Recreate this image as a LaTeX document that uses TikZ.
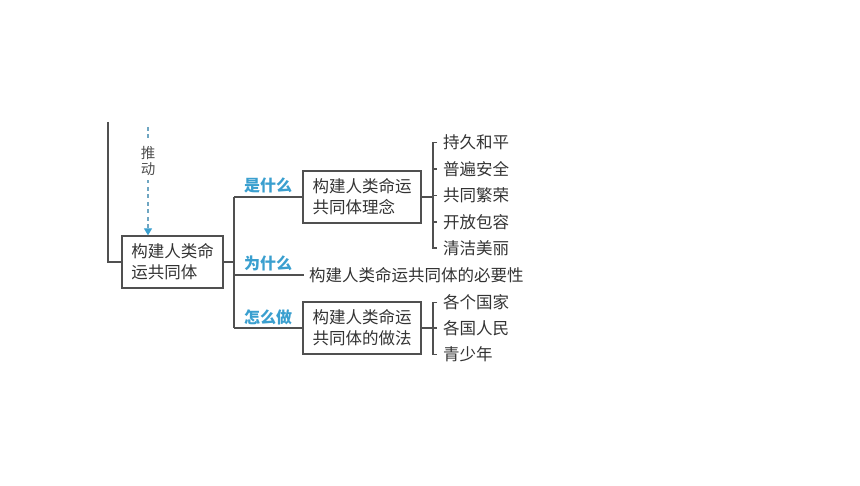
\documentclass[tikz,border=0pt]{standalone}
\usepackage{fontspec}
\setmainfont{Noto Sans CJK SC}
\usetikzlibrary{arrows.meta}
\definecolor{ln}{HTML}{505050}
\definecolor{tx}{HTML}{333333}
\definecolor{bl}{HTML}{3A9FCF}
\definecolor{dsh}{HTML}{6FA6C2}
\begin{document}
\begin{tikzpicture}[x=1pt,y=-1pt,
  conn/.style={draw=ln, line width=1.3pt},
  box/.style={draw=ln, line width=1.3pt, inner xsep=0pt, inner ysep=0pt, align=left, text=tx},
  bigbox/.style={box, minimum width=118pt, minimum height=52pt, font=\fontsize{16.5}{21}\selectfont},
  smallbox/.style={box, minimum width=101pt, minimum height=52pt, font=\fontsize{16.5}{21}\selectfont},
  item/.style={anchor=west, inner sep=0pt, text=tx, font=\fontsize{16.5}{20}\selectfont},
  qlabel/.style={inner sep=0pt, text=bl, font=\fontsize{16}{20}\selectfont\bfseries},
  tick/.style={draw=ln, line width=1.3pt}
]
\useasboundingbox (0,0) rectangle (860,486);

% main box
\node[smallbox] (b1) at (172.5,262) {构建人类命\\运共同体};
% left line
\coordinate (ltop) at (108,122);
\coordinate (lbot) at (108,262);
\draw[conn] (ltop) -- (lbot) -- (b1.west);

% dashed arrow
\coordinate (dtop) at (148,127);
\draw[draw=dsh, line width=1.3pt, dash pattern=on 4pt off 3.5pt, -{Triangle[width=8pt,length=7pt,color=bl]}] (dtop) -- (b1.north -| dtop);
\node[fill=white, inner xsep=2pt, inner ysep=4pt, text=ln, align=center, font=\fontsize{14.5}{16.5}\selectfont] (push) at (148,161) {推\\动};

% trunk
\coordinate (t0) at (234,262);
\coordinate (ttop) at (234,197);
\coordinate (tmid) at (234,275);
\coordinate (tbot) at (234,328);
\draw[conn] (b1.east) -- (t0);
\draw[conn] (ttop) -- (tbot);

% boxes 2,3
\node[bigbox] (b2) at (362,197) {构建人类命运\\共同体理念};
\node[bigbox] (b3) at (362,328) {构建人类命运\\共同体的做法};
\draw[conn] (ttop) -- (b2.west);
\draw[conn] (tbot) -- (b3.west);

% middle
\node[item] (need) at (309,275) {构建人类命运共同体的必要性};
\draw[conn] (tmid) -- ([xshift=-5pt]need.west);

% labels
\node[qlabel] (q1) at (268,185) {是什么};
\node[qlabel] (q2) at (268,263) {为什么};
\node[qlabel] (q3) at (268,317) {怎么做};

% bracket for b2
\coordinate (k2) at (433,197);
\draw[conn] (b2.east) -- (k2);
\node[item] (i1) at (443,142.5) {持久和平};
\node[item] (i2) at (443,169) {普遍安全};
\node[item] (i3) at (443,195.5) {共同繁荣};
\node[item] (i4) at (443,222) {开放包容};
\node[item] (i5) at (443,248) {清洁美丽};
\draw[tick] (i1.west -| k2) ++(4,0) -- (i1.west -| k2) -- (i5.west -| k2) -- ++(4,0);
\foreach \n in {i2,i3,i4} \draw[tick] (\n.west -| k2) -- ++(4,0);

% bracket for b3
\coordinate (k3) at (433,328);
\draw[conn] (b3.east) -- (k3);
\node[item] (j1) at (443,302.5) {各个国家};
\node[item] (j2) at (443,328) {各国人民};
\node[item] (j3) at (443,354.5) {青少年};
\draw[tick] (j1.west -| k3) ++(4,0) -- (j1.west -| k3) -- (j3.west -| k3) -- ++(4,0);
\draw[tick] (j2.west -| k3) -- ++(4,0);
\end{tikzpicture}
\end{document}
